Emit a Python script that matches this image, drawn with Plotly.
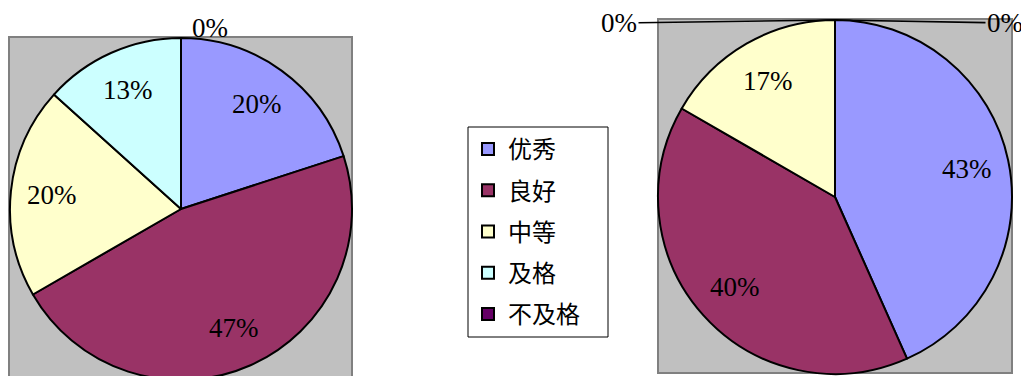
import math
import plotly.graph_objects as go

categories = ["优秀", "良好", "中等", "及格", "不及格"]
left_values = [3, 7, 3, 2, 0]
right_values = [13, 12, 5, 0, 0]
colors = ["#9999FF", "#993366", "#FFFFCC", "#CCFFFF", "#660066"]

OFF = 8  # page body margin
W, H = 1021, 420
num_font = dict(family="Liberation Serif", size=27, color="black")


def px(x):
    return (x - OFF) / W


def py(y):
    return 1 - (y - OFF) / H


# pie geometry (page pixels): centre x, centre y, radius
LEFT = (181, 209, 171)
RIGHT = (835, 197, 177)


def domain(geom):
    cx, cy, r = geom
    return dict(x=[px(cx - r), px(cx + r)], y=[py(cy + r), py(cy - r)])


fig = go.Figure()
for vals, geom in [(left_values, LEFT), (right_values, RIGHT)]:
    fig.add_trace(go.Pie(
        labels=categories, values=vals, sort=False, direction="clockwise", rotation=0,
        marker=dict(colors=colors, line=dict(color="black", width=2)),
        textinfo="none", showlegend=False, automargin=False,
        domain=domain(geom), hoverinfo="label+percent",
    ))

annotations = []


def pie_labels(vals):
    total = sum(vals)
    cum = 0
    out = []
    for v in vals:
        frac = v / total
        mid = 2 * math.pi * (cum + frac / 2)
        cum += frac
        out.append((frac, mid))
    return out


for vals, geom in [(left_values, LEFT), (right_values, RIGHT)]:
    cx, cy, r = geom
    for frac, mid in pie_labels(vals):
        if frac == 0:
            continue
        x = cx + 0.76 * r * math.sin(mid)
        y = cy - 0.76 * r * math.cos(mid)
        annotations.append(dict(x=px(x), y=py(y), xref="paper", yref="paper",
                                xanchor="center", yanchor="middle",
                                text=f"{frac:.0%}", showarrow=False, font=num_font))

# zero-value labels
lt = sum(left_values)
annotations.append(dict(x=px(LEFT[0]), y=py(LEFT[1] - LEFT[2]), xref="paper", yref="paper",
                        xanchor="center", yanchor="middle",
                        text=f"{left_values[4] / lt:.0%}", showarrow=False, font=num_font,
                        xshift=29, yshift=10))
rt = sum(right_values)
annotations.append(dict(x=px(RIGHT[0]), y=py(RIGHT[1] - RIGHT[2]), xref="paper", yref="paper",
                        text=f"{right_values[3] / rt:.0%}", showarrow=True, arrowhead=0,
                        arrowwidth=1.6, arrowcolor="black", ax=-216, ay=3, font=num_font))
annotations.append(dict(x=px(RIGHT[0]), y=py(RIGHT[1] - RIGHT[2]), xref="paper", yref="paper",
                        text=f"{right_values[4] / rt:.0%}", showarrow=True, arrowhead=0,
                        arrowwidth=1.6, arrowcolor="black", ax=170, ay=3, font=num_font))

# legend entries
for c, col in zip(categories, colors):
    fig.add_trace(go.Scatter(
        x=[None], y=[None], mode="markers", name=c, legendgroup=c, showlegend=True,
        marker=dict(symbol="square", size=12, color=col, line=dict(color="black", width=2)),
    ))

fig.update_layout(
    width=W, height=H, margin=dict(l=0, r=0, t=0, b=0),
    paper_bgcolor="white", plot_bgcolor="white",
    xaxis=dict(visible=False), yaxis=dict(visible=False),
    legend=dict(x=px(468), y=py(127), xanchor="left", yanchor="top",
                borderwidth=0, bgcolor="rgba(0,0,0,0)",
                traceorder="grouped", tracegroupgap=7,
                font=dict(family="Noto Sans CJK SC", size=24, color="black")),
    annotations=annotations,
    shapes=[
        dict(type="rect", xref="paper", yref="paper", x0=px(9), x1=px(352), y0=0, y1=py(37),
             fillcolor="#C0C0C0", line=dict(color="#808080", width=2), layer="below"),
        dict(type="rect", xref="paper", yref="paper", x0=px(658), x1=px(1012), y0=py(373), y1=py(19),
             fillcolor="#C0C0C0", line=dict(color="#808080", width=2), layer="below"),
        dict(type="rect", xref="paper", yref="paper", x0=px(468), x1=px(608), y0=py(337), y1=py(127),
             fillcolor="white", line=dict(color="black", width=1), layer="below"),
    ],
)
fig.write_html("out.html")
